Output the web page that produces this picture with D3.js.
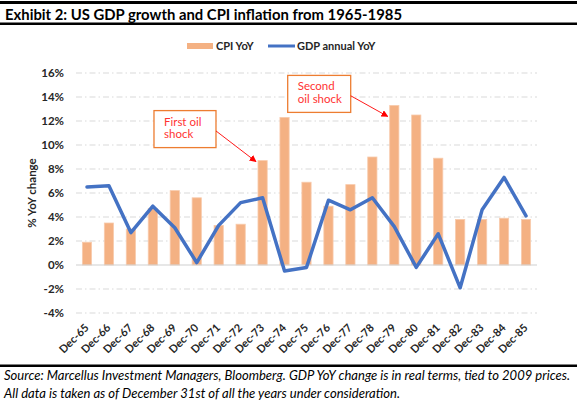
<!DOCTYPE html>
<html>
<head>
<meta charset="utf-8">
<script src="https://cdn.jsdelivr.net/npm/d3@7"></script>
<style>
  html, body { margin: 0; padding: 0; background: #fff; }
  svg { display: block; font-family: Lato, "Open Sans", sans-serif; }
</style>
</head>
<body>
<svg id="chart" width="577" height="407"></svg>
<script>
// ---- data ----
const categories = ["Dec-65","Dec-66","Dec-67","Dec-68","Dec-69","Dec-70","Dec-71","Dec-72","Dec-73","Dec-74","Dec-75",
                    "Dec-76","Dec-77","Dec-78","Dec-79","Dec-80","Dec-81","Dec-82","Dec-83","Dec-84","Dec-85"];
const cpiYoY = [1.9, 3.5, 3.0, 4.7, 6.2, 5.6, 3.3, 3.4, 8.7, 12.3, 6.9, 4.9, 6.7, 9.0, 13.3, 12.5, 8.9, 3.8, 3.8, 3.9, 3.8];
const gdpYoY = [6.5, 6.6, 2.7, 4.9, 3.1, 0.2, 3.3, 5.2, 5.6, -0.5, -0.2, 5.4, 4.6, 5.6, 3.2, -0.2, 2.6, -1.9, 4.6, 7.3, 4.1];
const yTicks = [-4, -2, 0, 2, 4, 6, 8, 10, 12, 14, 16];
const titleText = "Exhibit 2: US GDP growth and CPI inflation from 1965-1985";
const legendLabels = ["CPI YoY", "GDP annual YoY"];
const yAxisTitle = "% YoY change";
const sourceLines = [
  "Source: Marcellus Investment Managers, Bloomberg. GDP YoY change is in real terms, tied to 2009 prices.",
  "All data is taken as of December 31st of all the years under consideration."
];
const annotations = [
  { lines: ["First oil", "shock"], target: "Dec-73" },
  { lines: ["Second", "oil shock"], target: "Dec-79" }
];

// ---- setup ----
const svg = d3.select("#chart");
const W = 577, H = 407;
const barColor = "#F4B183", lineColor = "#4472C4", gridColor = "#D9D9D9";

const x = d3.scaleBand().domain(categories).range([76, 537]).paddingInner(0.58).paddingOuter(0.29);
const y = d3.scaleLinear().domain([-4, 16]).range([313, 73]);
const cx = c => x(c) + x.bandwidth() / 2;

// header rules & title
svg.append("rect").attr("x", 0).attr("y", 1).attr("width", W).attr("height", 3).attr("fill", "#000");
svg.append("text").attr("x", 5).attr("y", 19.5)
  .attr("font-size", 15.5).attr("font-weight", "bold").attr("fill", "#000")
  .attr("textLength", 397).attr("lengthAdjust", "spacingAndGlyphs")
  .text(titleText);
svg.append("rect").attr("x", 0).attr("y", 22.5).attr("width", W).attr("height", 2.5).attr("fill", "#000");

// legend
const lg = svg.append("g");
lg.append("rect").attr("x", 187).attr("y", 43).attr("width", 26).attr("height", 6).attr("fill", barColor);
lg.append("text").attr("x", 216).attr("y", 50).attr("font-size", 11).attr("font-weight", "bold").attr("fill", "#262626").text(legendLabels[0]);
lg.append("line").attr("x1", 268).attr("x2", 295).attr("y1", 46).attr("y2", 46).attr("stroke", lineColor).attr("stroke-width", 3);
lg.append("text").attr("x", 297).attr("y", 50).attr("font-size", 11).attr("font-weight", "bold").attr("fill", "#262626").text(legendLabels[1]);

// gridlines
const grid = svg.append("g");
grid.selectAll("line").data(yTicks.filter(t => t !== 0)).join("line")
  .attr("x1", 76).attr("x2", 537)
  .attr("y1", d => y(d)).attr("y2", d => y(d))
  .attr("stroke", gridColor).attr("stroke-width", 1)
  .attr("stroke-dasharray", "6,3,1.5,3");

// y axis labels
const yAxis = d3.axisLeft(y).tickValues(yTicks).tickSize(0).tickPadding(0).tickFormat(d => d + "%");
const yg = svg.append("g").attr("transform", "translate(64,0)").call(yAxis);
yg.select(".domain").remove();
yg.selectAll("text").attr("font-size", 11.5).attr("font-weight", "bold").attr("fill", "#262626")
  .attr("font-family", "Lato, sans-serif");

// y axis title
svg.append("text").attr("transform", `translate(36,${y(6)}) rotate(-90)`)
  .attr("text-anchor", "middle").attr("font-size", 11.5).attr("font-weight", "bold").attr("fill", "#262626")
  .text(yAxisTitle);

// bars
svg.append("g").selectAll("rect").data(categories).join("rect")
  .attr("x", d => x(d)).attr("width", x.bandwidth())
  .attr("y", (d, i) => y(Math.max(0, cpiYoY[i])))
  .attr("height", (d, i) => Math.abs(y(cpiYoY[i]) - y(0)))
  .attr("fill", barColor).attr("stroke", "#F8CBAD").attr("stroke-width", 0.8);

// zero line
svg.append("line").attr("x1", 76).attr("x2", 537).attr("y1", y(0)).attr("y2", y(0))
  .attr("stroke", "#D0D0D0").attr("stroke-width", 1.2);

// GDP line
const line = d3.line().x((d, i) => cx(categories[i])).y(d => y(d));
svg.append("path").datum(gdpYoY).attr("d", line)
  .attr("fill", "none").attr("stroke", lineColor).attr("stroke-width", 3.5)
  .attr("stroke-linejoin", "round").attr("stroke-linecap", "round");

// x axis labels
const xAxis = d3.axisBottom(x).tickSize(0).tickPadding(0);
const xg = svg.append("g").attr("transform", "translate(0,323)").call(xAxis);
xg.select(".domain").remove();
xg.selectAll("text")
  .attr("font-size", 11).attr("font-weight", "bold").attr("fill", "#262626").attr("font-family", "Lato, sans-serif")
  .attr("text-anchor", "end").attr("dy", "0.7em").attr("dx", "0")
  .attr("transform", "translate(-3,0) rotate(-45)");

// annotations
const defs = svg.append("defs");
defs.append("marker").attr("id", "arrow").attr("viewBox", "0 0 10 10")
  .attr("refX", 9).attr("refY", 5).attr("markerWidth", 7).attr("markerHeight", 7)
  .attr("markerUnits", "userSpaceOnUse").attr("orient", "auto")
  .append("path").attr("d", "M0,0 L10,5 L0,10 Z").attr("fill", "#FF0000");

const annBoxes = [
  { w: 62, h: 37, dx: -102, dy: -51, arrowFrom: 0.55 },
  { w: 63, h: 37, dx: -100, dy: -41, arrowFrom: 0.55 }
];
annotations.forEach((a, k) => {
  const idx = categories.indexOf(a.target);
  const tipX = x(a.target) - 2;
  const tipY = y(cpiYoY[idx]) + (k === 0 ? 1 : 11);
  const b = annBoxes[k];
  const bx = tipX + b.dx, by = tipY + b.dy;
  const g = svg.append("g");
  g.append("rect").attr("x", bx).attr("y", by).attr("width", b.w).attr("height", b.h)
    .attr("fill", "#fff").attr("stroke", "#ED7D31").attr("stroke-width", 1.3);
  a.lines.forEach((t, j) => {
    g.append("text").attr("x", bx + 10).attr("y", by + 15 + j * 12.5)
      .attr("font-size", 11.5).attr("fill", "#FF3333").text(t);
  });
  g.append("line").attr("x1", bx + b.w).attr("y1", by + b.h * b.arrowFrom)
    .attr("x2", tipX).attr("y2", tipY)
    .attr("stroke", "#FF0000").attr("stroke-width", 0.9).attr("marker-end", "url(#arrow)");
});

// footer
svg.append("rect").attr("x", 0).attr("y", 364.5).attr("width", W).attr("height", 2.5).attr("fill", "#000");
svg.append("text").attr("x", 4).attr("y", 380).attr("font-size", 13).attr("font-style", "italic").attr("fill", "#000")
  .attr("textLength", 566).attr("lengthAdjust", "spacingAndGlyphs").text(sourceLines[0]);
svg.append("text").attr("x", 4).attr("y", 398).attr("font-size", 13).attr("font-style", "italic").attr("fill", "#000")
  .attr("textLength", 396).attr("lengthAdjust", "spacingAndGlyphs").text(sourceLines[1]);
</script>
</body>
</html>
